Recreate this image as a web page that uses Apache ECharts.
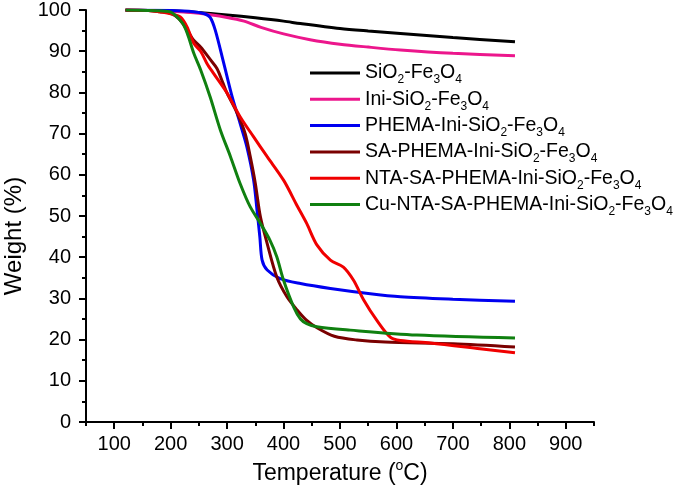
<!DOCTYPE html>
<html>
<head>
<meta charset="utf-8">
<script src="https://cdn.jsdelivr.net/npm/echarts@6/dist/echarts.min.js"></script>
<style>html,body{margin:0;padding:0;background:#fff;}#c{width:678px;height:485px;}</style>
</head>
<body>
<div id="c"></div>
<script>
// ---- data ----
const seriesNames = ['SiO2-Fe3O4', 'Ini-SiO2-Fe3O4', 'PHEMA-Ini-SiO2-Fe3O4', 'SA-PHEMA-Ini-SiO2-Fe3O4', 'NTA-SA-PHEMA-Ini-SiO2-Fe3O4', 'Cu-NTA-SA-PHEMA-Ini-SiO2-Fe3O4'];

const sio2T = [120,160,200,250,300,350,400,430,500,550,607,700,810];
const sio2W = [100,99.9,99.8,99.4,98.8,98.1,97.3,96.7,95.5,94.9,94.3,93.3,92.3];

const iniT = [120,160,200,250,300,330,360,400,447,500,550,607,700,810];
const iniW = [100,99.9,99.7,99.2,98.2,97.3,95.8,94.2,92.8,91.7,91.0,90.3,89.5,88.9];

const phemaT = [120,160,200,240,260,270,279,294,309,323,335,347,353,358,362,371,394,430,483,550,607,700,810];
const phemaW = [100,99.95,99.9,99.6,99.1,98.2,95.1,87.1,78.9,72.5,66.8,58.7,51.4,44.9,39.3,36.9,34.8,33.6,32.4,31.2,30.4,29.8,29.3];

const saT = [120,160,180,200,215,230,240,253,270,282,292,300,318,332,341,350,359,371,388,406,424,440,460,490,530,580,700,810];
const saW = [100,99.9,99.6,99.2,97.8,95,92.8,91,88,85.8,82.5,79.8,74.9,70,64.4,57.9,49.8,43.3,35.2,30.4,27.2,24.8,22.8,20.8,19.9,19.4,19.0,18.2];

const ntaT = [120,160,180,200,217,229,241,253,264,276,300,323,347,371,400,424,441,459,483,506,524,542,565,589,607,660,748,810];
const ntaW = [100,99.9,99.6,99.1,98.3,95.9,91.9,90,87.1,84.6,79.8,74.1,69.2,64.4,58.7,52.5,48.2,43,39.3,37.6,34.4,29.6,24.7,20.6,19.8,19.2,17.8,16.8];

const cuT = [120,160,180,200,220,229,241,253,270,288,306,323,341,359,376,388,400,418,430,441,459,518,636,810];
const cuW = [100,99.9,99.8,99.5,97,94.5,89.5,85.5,78.9,70.9,64.4,57.9,52.2,48.2,44.1,40.1,34.4,27.9,25,23.9,23.1,22.3,21.1,20.4];

const xMajorTicks = [100,200,300,400,500,600,700,800,900];
const xMinorTicks = [50,150,250,350,450,550,650,750,850,950];

const colors = ['#000000', '#ec168c', '#0000f0', '#7a0000', '#f00000', '#108010'];

// ---- build ----
const allT = [sio2T, iniT, phemaT, saT, ntaT, cuT];
const allW = [sio2W, iniW, phemaW, saW, ntaW, cuW];
const FONT = 'Arial, "Liberation Sans", sans-serif';

function pairs(t, w) { return t.map((x, i) => [x, w[i]]); }
function richName(name) { return name.replace(/(\d)/g, '{s|$1}'); }

const chart = echarts.init(document.getElementById('c'), null, {renderer: 'canvas'});
chart.setOption({
  animation: false,
  backgroundColor: '#ffffff',
  textStyle: {fontFamily: FONT, color: '#000'},
  grid: {left: 86, right: 84, top: 10, bottom: 63, containLabel: false, outerBoundsMode: 'none'},
  legend: {
    orient: 'vertical',
    left: 305,
    top: 55,
    itemWidth: 50,
    itemHeight: 3,
    itemGap: 0.3,
    selectedMode: false,
    icon: 'rect',
    data: seriesNames.map((n, i) => ({name: n, itemStyle: {color: colors[i]}})),
    formatter: (n) => richName(n),
    textStyle: {
      fontFamily: FONT, fontSize: 19.5, color: '#000', lineHeight: 26,
      rich: {s: {fontFamily: FONT, fontSize: 12, color: '#000', verticalAlign: 'bottom', lineHeight: 10}}
    }
  },
  xAxis: [{
    type: 'value', min: 50, max: 950, interval: 50, position: 'bottom',
    name: 'Temperature ({sup|o}C)',
    nameLocation: 'middle', nameGap: 33,
    nameTextStyle: {fontFamily: FONT, fontSize: 23, color: '#000',
      rich: {sup: {fontFamily: FONT, fontSize: 14, color: '#000', padding: [0, 0, 16, 0]}}},
    axisLine: {show: true, lineStyle: {color: '#000', width: 2}},
    axisTick: {show: true, customValues: xMajorTicks, length: 7, lineStyle: {color: '#000', width: 2}},
    axisLabel: {show: true, customValues: xMajorTicks, fontFamily: FONT, fontSize: 20, color: '#000', margin: 12},
    splitLine: {show: false}
  }, {
    type: 'value', min: 50, max: 950, interval: 50, position: 'bottom',
    axisLine: {show: false},
    axisTick: {show: true, customValues: xMinorTicks, length: 4, lineStyle: {color: '#000', width: 2}},
    axisLabel: {show: false},
    splitLine: {show: false}
  }],
  yAxis: {
    type: 'value', min: 0, max: 100, interval: 10,
    name: 'Weight (%)',
    nameLocation: 'middle', nameGap: 60,
    nameTextStyle: {fontFamily: FONT, fontSize: 24, color: '#000', padding: [0, 40, 0, 0]},
    axisLine: {show: true, lineStyle: {color: '#000', width: 2}},
    axisTick: {show: true, length: 7, lineStyle: {color: '#000', width: 2}},
    minorTick: {show: true, splitNumber: 2, length: 4, lineStyle: {color: '#000', width: 2}},
    axisLabel: {fontFamily: FONT, fontSize: 20, color: '#000', margin: 15},
    splitLine: {show: false},
    minorSplitLine: {show: false}
  },
  series: seriesNames.map((n, i) => ({
    name: n,
    type: 'line',
    xAxisIndex: 0,
    data: pairs(allT[i], allW[i]),
    symbol: 'none',
    smooth: 0.3,
    lineStyle: {color: colors[i], width: 3},
    itemStyle: {color: colors[i]}
  }))
});
</script>
</body>
</html>
